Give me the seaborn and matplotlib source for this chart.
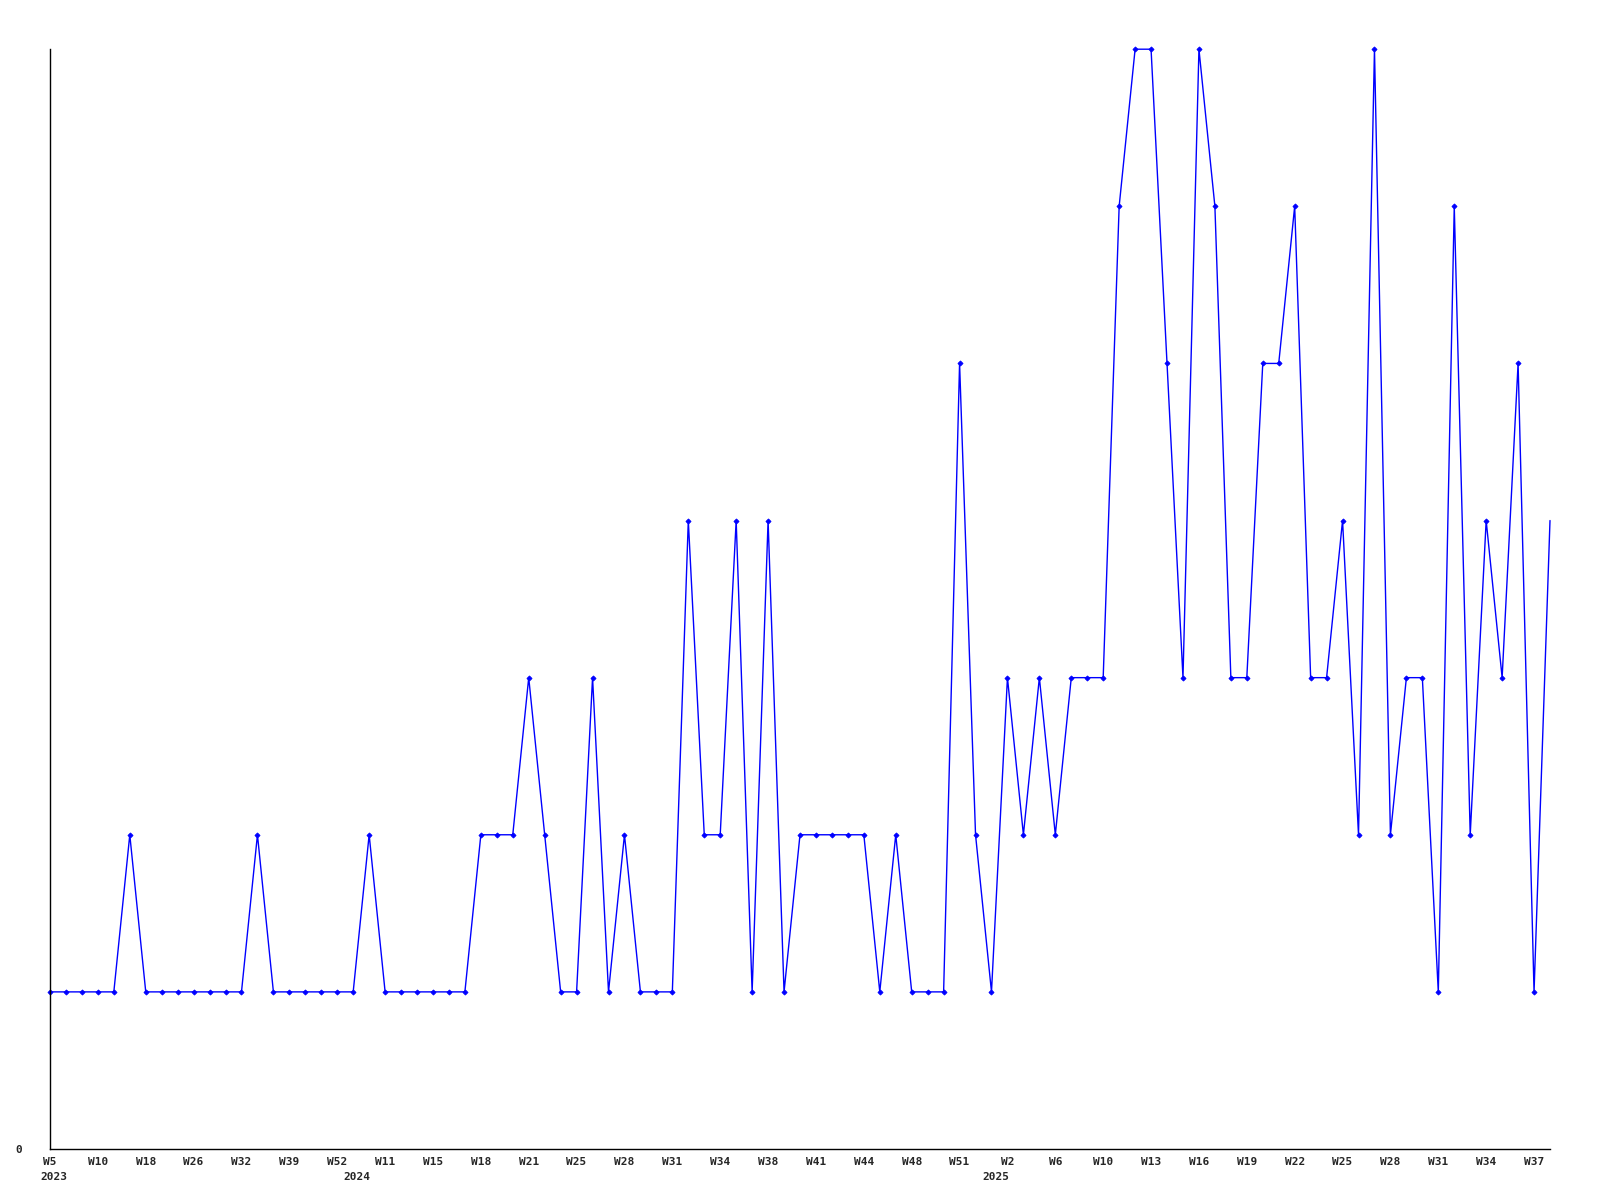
import numpy as np
import pandas as pd
import matplotlib
matplotlib.use('Agg')
import matplotlib.pyplot as plt
import matplotlib.transforms as mtransforms
import seaborn as sns

# weekly counts, one value per point
counts = [1, 1, 1, 1, 1, 2, 1, 1, 1, 1, 1, 1, 1, 2, 1, 1, 1, 1, 1, 1,
          2, 1, 1, 1, 1, 1, 1, 2, 2, 2, 3, 2, 1, 1, 3, 1, 2, 1, 1, 1,
          4, 2, 2, 4, 1, 4, 1, 2, 2, 2, 2, 2, 1, 2, 1, 1, 1, 5, 2, 1,
          3, 2, 3, 2, 3, 3, 3, 6, 7, 7, 5, 3, 7, 6, 3, 3, 5, 5, 6, 3,
          3, 4, 2, 7, 2, 3, 3, 1, 6, 2, 4, 3, 5, 1, 4]

# x tick labels, one every third point
week_labels = ['W5', 'W10', 'W18', 'W26', 'W32', 'W39', 'W52', 'W11', 'W15', 'W18',
               'W21', 'W25', 'W28', 'W31', 'W34', 'W38', 'W41', 'W44', 'W48', 'W51',
               'W2', 'W6', 'W10', 'W13', 'W16', 'W19', 'W22', 'W25', 'W28', 'W31',
               'W34', 'W37']
years = ['2023', '2024', '2025']
year_start = [0, 19, 59]

df = pd.DataFrame({'idx': np.arange(len(counts)), 'count': counts})

sns.set_style('white')
plt.rcParams['font.family'] = ['DejaVu Sans Mono']
plt.rcParams['font.weight'] = 'bold'

fig = plt.figure(figsize=(16, 12), dpi=100)
ax = fig.add_axes([0.03125, 0.0425, 0.9375, 0.9165])

sns.lineplot(data=df, x='idx', y='count', ax=ax, color='#0000ff', linewidth=1.0,
             marker='D', markersize=2.6, markeredgewidth=0.6, markeredgecolor='#0000ff',
             markevery=list(range(len(counts) - 1)), clip_on=False)

ax.set_xlim(0, len(counts) - 1)
ax.set_ylim(0, 7)
sns.despine(ax=ax)
for s in ['left', 'bottom']:
    ax.spines[s].set_color('black')
    ax.spines[s].set_linewidth(1.0)

ax.set_xticks(range(0, len(counts), 3))
ax.set_xticklabels(week_labels, fontsize=8, fontweight='bold')
ax.set_yticks([0])
ax.set_yticklabels(['0'], fontsize=8, fontweight='bold')
ax.tick_params(axis='x', length=0, pad=6)
ax.tick_params(axis='y', length=0, pad=20)
ax.set_xlabel('')
ax.set_ylabel('')

trans = mtransforms.blended_transform_factory(ax.transData, ax.transAxes)
trans = trans + mtransforms.ScaledTranslation(0.04, 0, fig.dpi_scale_trans)
for yr, pos in zip(years, year_start):
    ax.text(pos, -0.021, yr, transform=trans, ha='center', va='top',
            fontsize=8, fontweight='bold')

fig.savefig('out.png', dpi=100)
